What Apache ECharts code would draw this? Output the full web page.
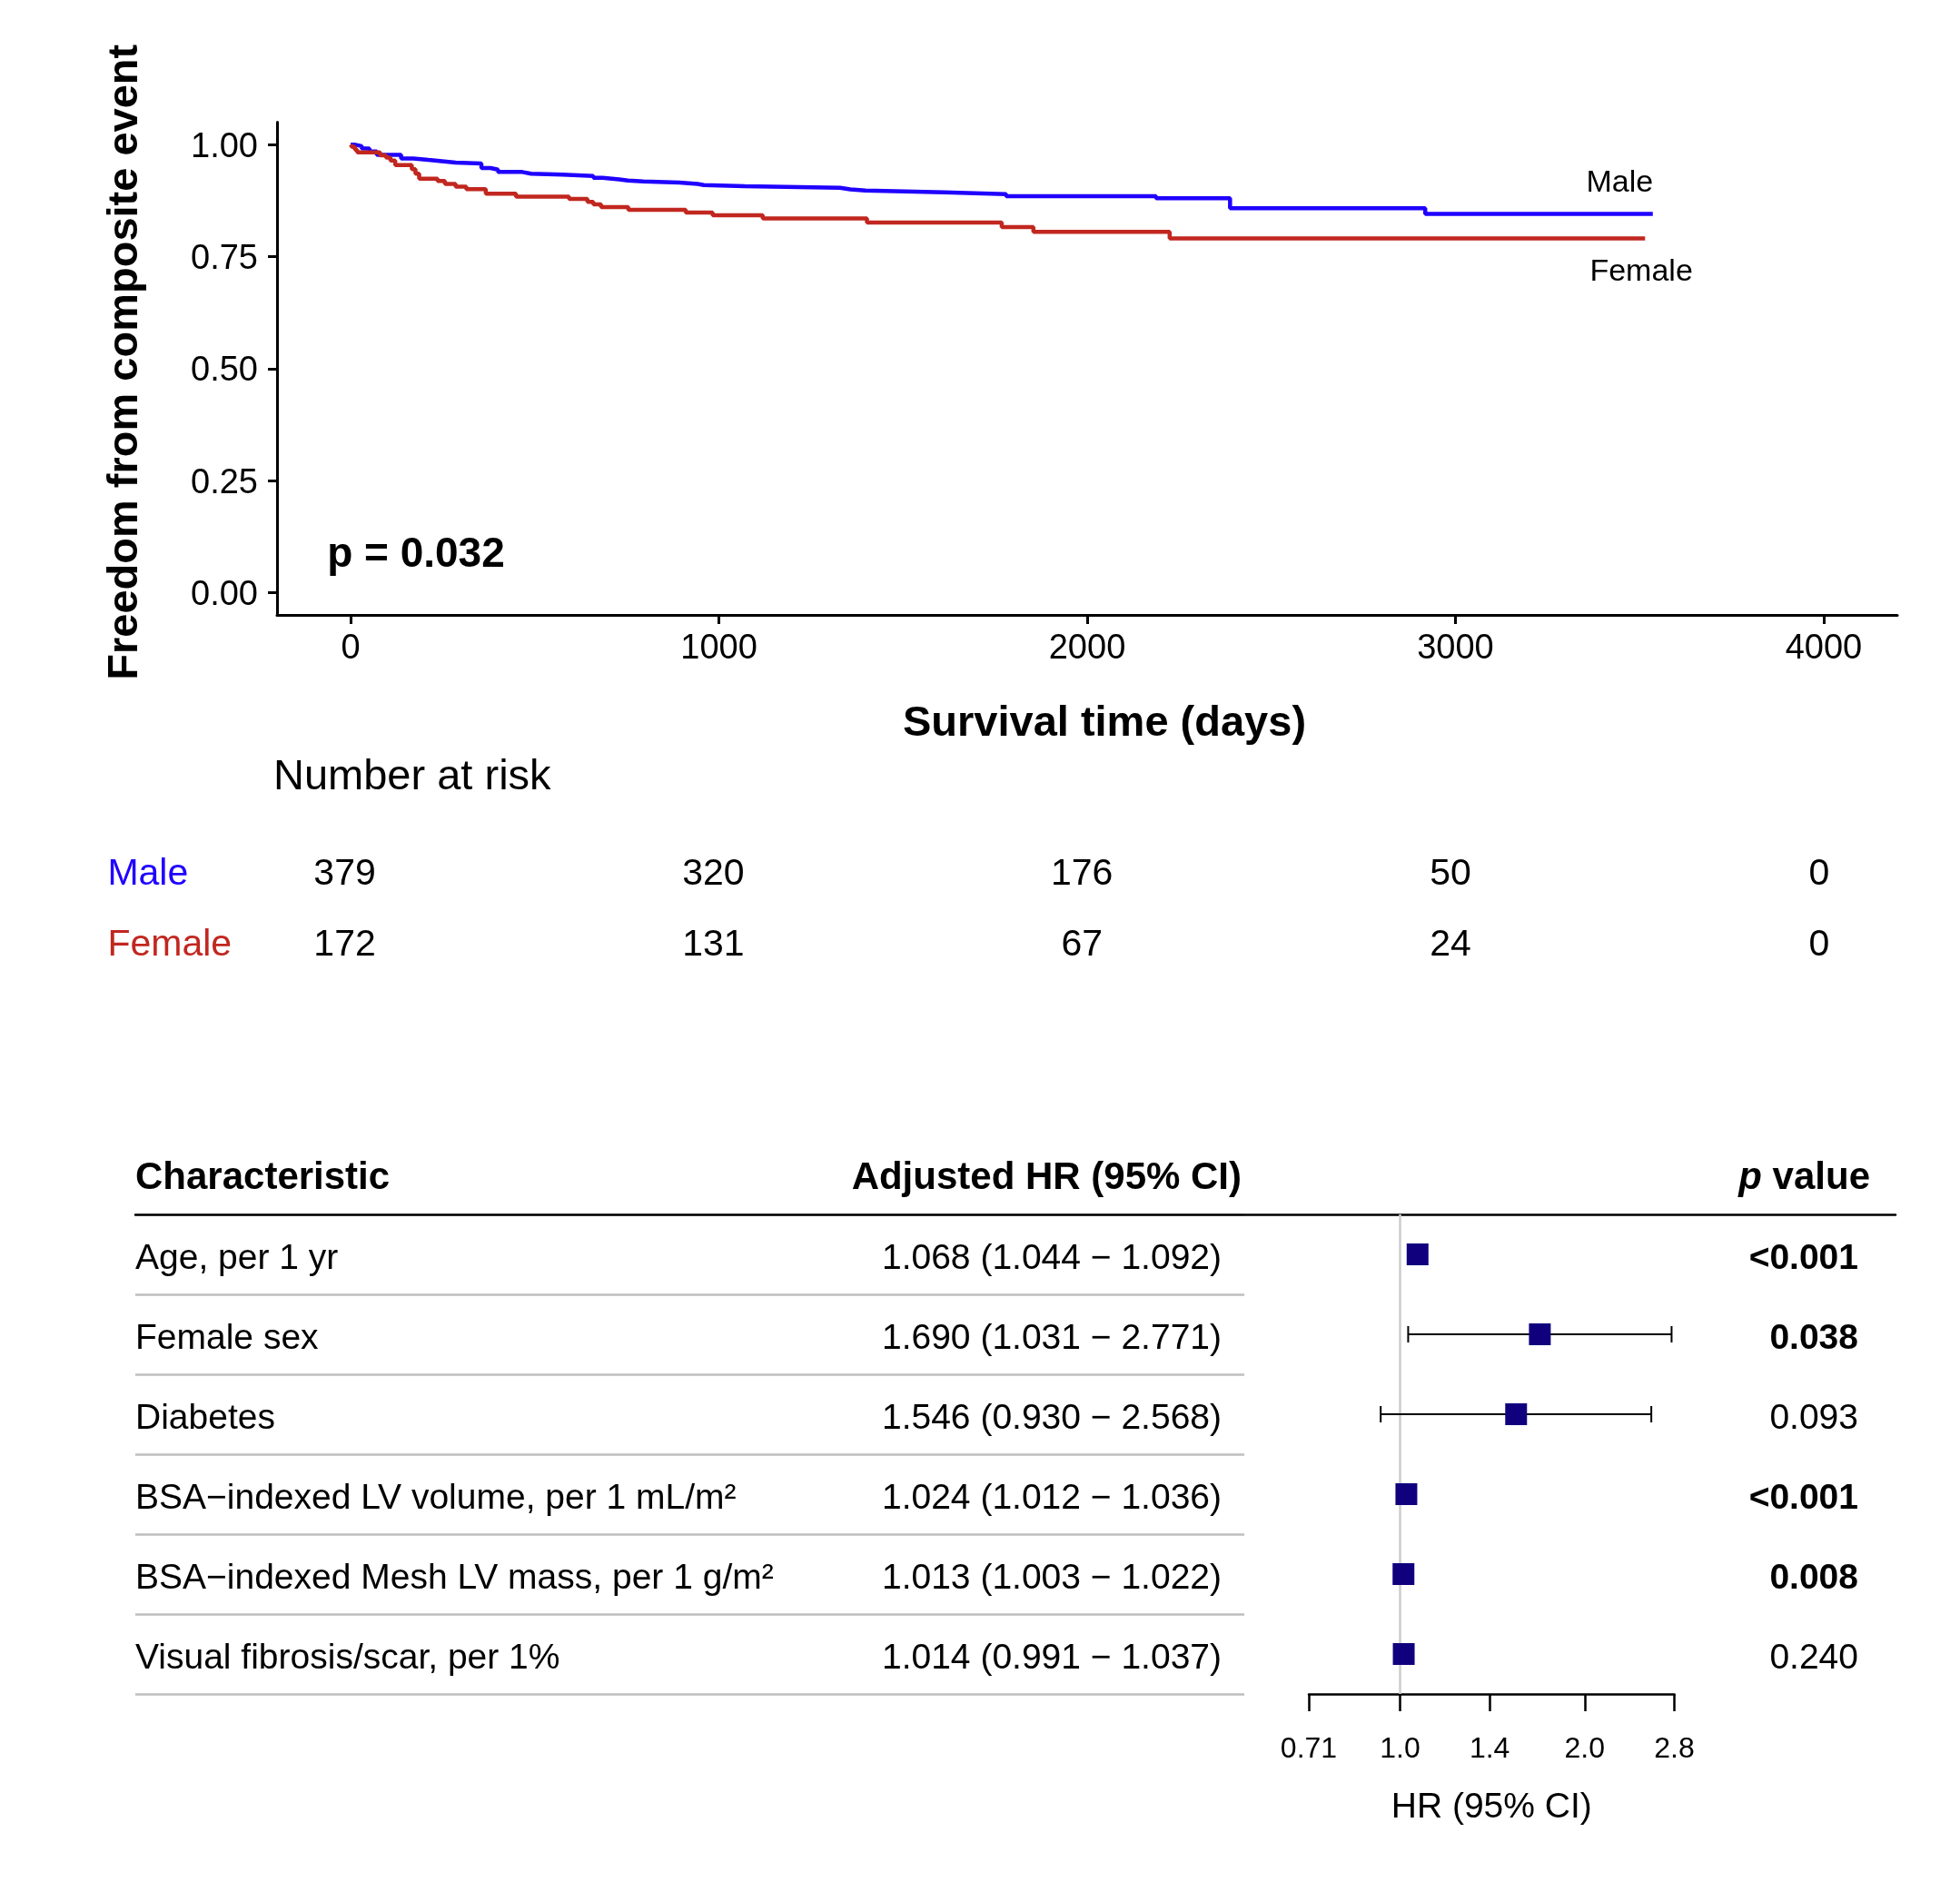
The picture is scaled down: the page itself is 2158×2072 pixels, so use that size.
<!DOCTYPE html>
<html><head><meta charset="utf-8">
<script src="https://cdn.jsdelivr.net/npm/echarts@6/dist/echarts.min.js"></script>
<style>html,body{margin:0;padding:0;background:#fff}#c{width:2158px;height:2072px}</style>
</head><body><div id="c"></div>
<script>
// ---------- Kaplan-Meier data ----------
const maleTimes = [0,10,30,51,71,137,170,211,248,285,355,380,400,466,490,575,659,684,729,753,795,893,942,959,1070,1329,1357,1398,1612,1780,2187,2388,2918,3536];
const maleSurv  = [1.0,0.9966,0.991,0.9845,0.977,0.969,0.9657,0.963,0.9596,0.9576,0.9475,0.944,0.9388,0.935,0.9327,0.930,0.9256,0.9223,0.9196,0.9176,0.915,0.9122,0.9095,0.9068,0.9035,0.9001,0.8974,0.8934,0.8894,0.885,0.880,0.858,0.845,0.845];
const femaleTimes = [0,4,12,18,80,96,108,121,166,176,186,236,256,285,314,367,449,593,643,659,680,754,910,983,1119,1402,1768,1854,2224,3515];
const femaleSurv  = [1.0,0.9946,0.9882,0.9825,0.976,0.971,0.9643,0.954,0.945,0.935,0.924,0.9186,0.912,0.906,0.9005,0.8904,0.8837,0.8786,0.872,0.8665,0.8605,0.8544,0.8484,0.8423,0.835,0.8261,0.816,0.8053,0.7905,0.7905];
const kmXTicks = [0,1000,2000,3000,4000];
const kmYTicks = [0,0.25,0.5,0.75,1];
// ---------- Number at risk ----------
const riskGroups = ['Male','Female'];
const riskTimes = [0,1000,2000,3000,4000];
const riskMale = [379,320,176,50,0];
const riskFemale = [172,131,67,24,0];
// ---------- Forest plot ----------
const characteristics = ['Age, per 1 yr','Female sex','Diabetes','BSA\u2212indexed LV volume, per 1 mL/m\u00b2','BSA\u2212indexed Mesh LV mass, per 1 g/m\u00b2','Visual fibrosis/scar, per 1%'];
const hrEst  = [1.068,1.690,1.546,1.024,1.013,1.014];
const hrLow  = [1.044,1.031,0.930,1.012,1.003,0.991];
const hrHigh = [1.092,2.771,2.568,1.036,1.022,1.037];
const pLabels = ['<0.001','0.038','0.093','<0.001','0.008','0.240'];
const hrTicks = [0.71,1.0,1.4,2.0,2.8];
const hrTickLabels = ['0.71','1.0','1.4','2.0','2.8'];

const FONT = 'Liberation Sans';
const BLUE = '#1f00ff', RED = '#c1271f', NAVY = '#10007e';
const hrTexts = hrEst.map((e,i)=>`${e.toFixed(3)} (${hrLow[i].toFixed(3)} \u2212 ${hrHigh[i].toFixed(3)})`);
const pBold = pLabels.map(s => parseFloat(s.replace('<','')) < 0.05);
const ln = Math.log;
const hrTickLn = hrTicks.map(v=>ln(v));
const rowIds = characteristics.map((c,i)=>String(i));

const txt = (size, extra) => Object.assign({fontFamily:FONT, fontSize:size, color:'#000', opacity:1, textBorderWidth:0}, extra||{});
const ROWPAD = [10,0,0,0];

const option = {
  animation:false,
  backgroundColor:'#fff',
  textStyle:{fontFamily:FONT, color:'#000'},
  grid:[
    {left:305, right:69, top:134.5, height:542.5},          // KM
    {left:298.4, right:74, top:924, height:156},            // risk table
    {left:1441, right:314.5, top:1337, height:528},         // forest
    {left:149, width:1221, top:1337, height:528},           // table text
    {left:149, right:71, top:1337, height:528}              // header line / p values
  ],
  xAxis:[
    {gridIndex:0, type:'value', min:-200, max:4200,
      axisLine:{onZero:false, lineStyle:{color:'#000', width:3}},
      axisTick:{length:10, lineStyle:{color:'#000', width:3}, customValues:kmXTicks},
      axisLabel:{customValues:kmXTicks, margin:19, formatter:(v)=>String(v), ...txt(38)},
      splitLine:{show:false},
      name:'Survival time (days)', nameLocation:'middle', nameGap:120,
      nameTextStyle:txt(47,{fontWeight:'bold', verticalAlign:'middle', padding:[0,0,0,38]})},
    {gridIndex:1, type:'value', min:-200, max:4200, show:false},
    {gridIndex:2, type:'value', min:ln(hrTicks[0]), max:ln(hrTicks[hrTicks.length-1]),
      axisLine:{show:true, onZero:false, lineStyle:{color:'#000', width:2.5}},
      axisTick:{show:true, length:19, lineStyle:{color:'#000', width:2.5}, customValues:hrTickLn},
      axisLabel:{customValues:hrTickLn, margin:45, ...txt(32),
        formatter:(v)=>{let b=0;hrTickLn.forEach((t,i)=>{if(Math.abs(t-v)<Math.abs(hrTickLn[b]-v))b=i;});return hrTickLabels[b];}},
      splitLine:{show:false},
      name:'HR (95% CI)', nameLocation:'middle', nameGap:125,
      nameTextStyle:txt(39,{verticalAlign:'middle'})},
    {gridIndex:3, type:'value', min:0, max:1, show:false},
    {gridIndex:4, type:'value', min:0, max:1, position:'top',
      axisLine:{show:true, onZero:false, lineStyle:{color:'#000', width:2.5}},
      axisTick:{show:false}, axisLabel:{show:false}, splitLine:{show:false}}
  ],
  yAxis:[
    {gridIndex:0, type:'value', min:-0.05, max:1.05,
      axisLine:{show:true, onZero:false, lineStyle:{color:'#000', width:3}},
      axisTick:{show:true, length:10, lineStyle:{color:'#000', width:3}, customValues:kmYTicks},
      axisLabel:{customValues:kmYTicks, margin:21, formatter:(v)=>`{a|${v.toFixed(2)}}`,
        rich:{a:txt(38,{padding:[6,0,0,0]})}, ...txt(38)},
      splitLine:{show:false},
      name:'Freedom from composite event', nameLocation:'middle', nameGap:167,
      nameTextStyle:txt(47,{fontWeight:'bold', verticalAlign:'middle', padding:[0,0,0,14]})},
    {gridIndex:1, type:'category', data:riskGroups, inverse:true,
      axisLine:{show:false}, axisTick:{show:false}, splitLine:{show:false},
      axisLabel:{align:'left', margin:180, fontFamily:FONT, fontSize:41,
        color:(v)=> v==='Male'?BLUE:RED}},
    {gridIndex:2, type:'category', data:rowIds, inverse:true, show:false},
    {gridIndex:3, type:'category', data:characteristics, inverse:true,
      axisLine:{show:false}, axisTick:{show:false},
      axisLabel:{inside:true, margin:0, ...txt(39), formatter:(v)=>`{a|${v}}`, rich:{a:txt(39,{padding:ROWPAD})}},
      splitLine:{show:true, lineStyle:{color:'#bebebe', width:2.5}}},
    {gridIndex:3, type:'category', data:hrTexts, inverse:true, position:'right',
      axisLine:{show:false}, axisTick:{show:false}, splitLine:{show:false},
      axisLabel:{inside:true, margin:25, ...txt(39), formatter:(v)=>`{a|${v}}`, rich:{a:txt(39,{padding:ROWPAD})}}},
    {gridIndex:4, type:'category', data:pLabels, inverse:true, position:'right',
      axisLine:{show:false}, axisTick:{show:false}, splitLine:{show:false},
      axisLabel:{inside:true, margin:41, ...txt(39),
        formatter:(v,i)=> pBold[i] ? `{b|${v}}` : `{n|${v}}`,
        rich:{b:txt(39,{fontWeight:'bold', padding:ROWPAD}), n:txt(39,{padding:ROWPAD})}}}
  ],
  graphic:[
    {type:'text', x:149, y:1297, style:{text:'Characteristic', fontFamily:FONT, fontSize:42, fontWeight:'bold', fill:'#000', align:'left', verticalAlign:'middle'}},
    {type:'text', x:1367, y:1297, style:{text:'Adjusted HR (95% CI)', fontFamily:FONT, fontSize:42, fontWeight:'bold', fill:'#000', align:'right', verticalAlign:'middle'}},
    {type:'text', x:2059, y:1297, style:{text:'{i|p}{b| value}', fill:'#000', align:'right', verticalAlign:'middle',
      rich:{i:{fontFamily:FONT, fontSize:42, fontWeight:'bold', fontStyle:'italic', fill:'#000'}, b:{fontFamily:FONT, fontSize:42, fontWeight:'bold', fill:'#000'}}}},
    {type:'text', x:301, y:856, style:{text:'Number at risk', fontFamily:FONT, fontSize:47, fill:'#000', align:'left', verticalAlign:'middle'}}
  ],
  series:[
    {type:'line', name:'Male', xAxisIndex:0, yAxisIndex:0, step:'end', symbol:'none',
      data:maleTimes.map((t,i)=>[t,maleSurv[i]]), lineStyle:{color:BLUE, width:4.5}, z:3},
    {type:'line', name:'Female', xAxisIndex:0, yAxisIndex:0, step:'end', symbol:'none',
      data:femaleTimes.map((t,i)=>[t,femaleSurv[i]]), lineStyle:{color:RED, width:4.5}, z:3},
    {type:'scatter', xAxisIndex:0, yAxisIndex:0, symbolSize:0, itemStyle:{color:'#000'}, silent:true, z:5,
      data:[
        {value:[3537,0.913], label:{show:true, formatter:'Male', position:[0,0], align:'right', verticalAlign:'middle', ...txt(34)}},
        {value:[3365,0.7155], label:{show:true, formatter:'Female', position:[0,0], align:'left', verticalAlign:'middle', ...txt(34)}},
        {value:[-64,0.084], label:{show:true, formatter:'p = 0.032', position:[0,0], align:'left', verticalAlign:'middle', ...txt(46,{fontWeight:'bold'})}}
      ]},
    {type:'scatter', xAxisIndex:1, yAxisIndex:1, symbolSize:0, itemStyle:{color:'#000'}, silent:true,
      data:riskTimes.map((t,i)=>[t,'Male',riskMale[i]]),
      label:{show:true, position:[0,0], align:'center', verticalAlign:'middle', formatter:(p)=>String(p.value[2]), ...txt(41)}},
    {type:'scatter', xAxisIndex:1, yAxisIndex:1, symbolSize:0, itemStyle:{color:'#000'}, silent:true,
      data:riskTimes.map((t,i)=>[t,'Female',riskFemale[i]]),
      label:{show:true, position:[0,0], align:'center', verticalAlign:'middle', formatter:(p)=>String(p.value[2]), ...txt(41)}},
    {type:'custom', xAxisIndex:2, yAxisIndex:2, z:2,
      data:hrEst.map((e,i)=>[ln(hrLow[i]), ln(hrHigh[i]), rowIds[i]]),
      encode:{x:[0,1], y:2},
      renderItem:(params, api)=>{
        const p1 = api.coord([api.value(0), api.value(2)]);
        const p2 = api.coord([api.value(1), api.value(2)]);
        const st = {stroke:'#000', lineWidth:2};
        return {type:'group', children:[
          {type:'line', shape:{x1:p1[0], y1:p1[1], x2:p2[0], y2:p2[1]}, style:st},
          {type:'line', shape:{x1:p1[0], y1:p1[1]-9, x2:p1[0], y2:p1[1]+9}, style:st},
          {type:'line', shape:{x1:p2[0], y1:p2[1]-9, x2:p2[0], y2:p2[1]+9}, style:st}
        ]};
      }},
    {type:'scatter', xAxisIndex:2, yAxisIndex:2, symbol:'rect', symbolSize:24, z:4,
      itemStyle:{color:NAVY, opacity:1},
      markLine:{silent:true, z:1, symbol:['none','none'], label:{show:false},
        lineStyle:{color:'#cccccc', width:2.5, type:'solid'}, data:[{xAxis:0}]},
      data:hrEst.map((e,i)=>[ln(e), rowIds[i]])}
  ]
};
const chart = echarts.init(document.getElementById('c'));
chart.setOption(option);
</script>
</body></html>
